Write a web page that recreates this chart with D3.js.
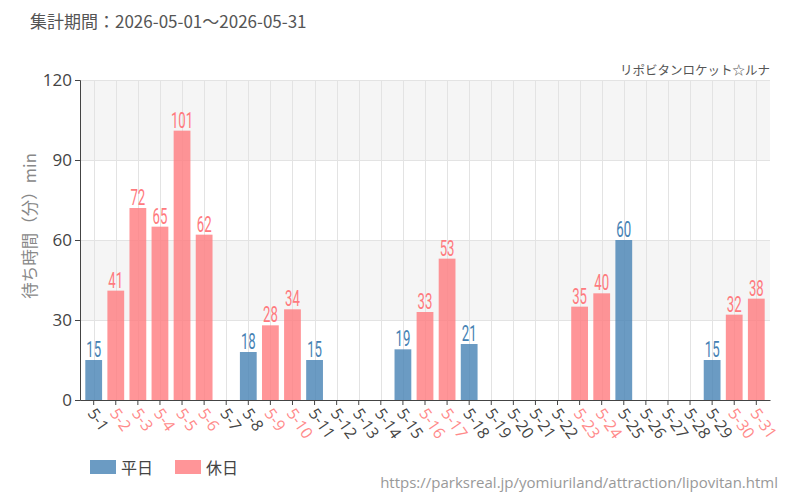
<!DOCTYPE html>
<html>
<head>
<meta charset="utf-8">
<script src="https://cdn.jsdelivr.net/npm/d3@7"></script>
<style>
  body { margin: 0; background: #fff; }
  svg { font-family: "Noto Sans CJK JP", "Noto Sans", sans-serif; }
</style>
</head>
<body>
<div id="root"></div>
<script>
// 日付ラベル
var days = ["5-1","5-2","5-3","5-4","5-5","5-6","5-7","5-8","5-9","5-10","5-11","5-12","5-13","5-14","5-15","5-16","5-17","5-18","5-19","5-20","5-21","5-22","5-23","5-24","5-25","5-26","5-27","5-28","5-29","5-30","5-31"];
// 待ち時間（分）, null = データなし
var waits = [15,41,72,65,101,62,null,18,28,34,15,null,null,null,19,33,53,21,null,null,null,null,35,40,60,null,null,null,15,32,38];
// 休日フラグ
var holiday = [0,1,1,1,1,1,0,0,1,1,0,0,0,0,0,1,1,0,0,0,0,0,1,1,0,0,0,0,0,1,1];
var yTicks = [0,30,60,90,120];

window.onload = function () {
    var width = 800, height = 500;
    var margin = {top: 80, right: 30, bottom: 100, left: 80};
    var colWeek = "#4682b4", colHoli = "#ff7a7e";

    var svg = d3.select("#root").append("svg")
        .attr("width", width).attr("height", height);

    var x = d3.scaleBand().domain(days)
        .range([margin.left, width - margin.right]).padding(0.24);
    var y = d3.scaleLinear().domain([0, 120]).range([height - margin.bottom, margin.top]);

    // 背景バンド
    svg.append("g").selectAll("rect")
        .data([[30, 60], [90, 120]])
        .enter().append("rect")
        .attr("x", margin.left).attr("width", width - margin.right - margin.left)
        .attr("y", function (d) { return y(d[1]); })
        .attr("height", function (d) { return y(d[0]) - y(d[1]); })
        .attr("fill", "#f5f5f5");

    // グリッド
    var grid = svg.append("g").attr("stroke", "#e3e3e3").attr("stroke-width", 1);
    grid.selectAll("line.h").data(yTicks.slice(1)).enter().append("line")
        .attr("x1", margin.left).attr("x2", width - margin.right)
        .attr("y1", function (d) { return y(d) + 0.5; }).attr("y2", function (d) { return y(d) + 0.5; });
    grid.selectAll("line.v").data(days).enter().append("line")
        .attr("x1", function (d) { return Math.round(x(d) + x.bandwidth() / 2) + 0.5; })
        .attr("x2", function (d) { return Math.round(x(d) + x.bandwidth() / 2) + 0.5; })
        .attr("y1", y(120)).attr("y2", y(0));

    // 棒
    var data = days.map(function (d, i) { return {day: d, v: waits[i], h: holiday[i]}; })
        .filter(function (d) { return d.v != null; });
    svg.append("g").selectAll("rect").data(data).enter().append("rect")
        .attr("x", function (d) { return x(d.day); })
        .attr("width", x.bandwidth())
        .attr("y", function (d) { return y(d.v); })
        .attr("height", function (d) { return y(0) - y(d.v); })
        .attr("fill", function (d) { return d.h ? colHoli : colWeek; })
        .attr("fill-opacity", 0.8);

    // 値ラベル（縦長の細字）
    svg.append("g").selectAll("text").data(data).enter().append("text")
        .attr("transform", function (d) {
            return "translate(" + (x(d.day) + x.bandwidth() / 2) + "," + (y(d.v) - 3) + ") scale(0.6,1)";
        })
        .attr("text-anchor", "middle")
        .style("font-family", "Roboto, sans-serif")
        .style("font-size", "22px")
        .attr("fill", function (d) { return d.h ? colHoli : colWeek; })
        .text(function (d) { return d.v; });

    // 軸
    var yAxis = svg.append("g").attr("transform", "translate(" + margin.left + ",0)")
        .call(d3.axisLeft(y).tickValues(yTicks).tickSize(5).tickPadding(3));
    yAxis.selectAll("text").style("font-size", "17px").attr("fill", "#444").style("font-family", "'Open Sans', sans-serif");
    yAxis.selectAll("line, path").attr("stroke", "#444");

    var xAxis = svg.append("g").attr("transform", "translate(0," + y(0) + ")")
        .call(d3.axisBottom(x).tickSize(5).tickSizeOuter(0));
    xAxis.select("path").attr("stroke", "#444");
    xAxis.selectAll("line").attr("stroke", "#444");
    xAxis.selectAll("text")
        .style("font-size", "16px").style("font-family", "'Open Sans', sans-serif")
        .attr("fill", function (d, i) { return holiday[i] ? "#ff8a8a" : "#444"; })
        .attr("text-anchor", "start")
        .attr("x", 0).attr("y", 0)
        .attr("dy", "0.35em")
        .attr("transform", "translate(-2,10) rotate(55)");

    // タイトル類
    svg.append("text").attr("x", 30).attr("y", 28)
        .style("font-size", "17px").attr("fill", "#555")
        .text("集計期間：2026-05-01～2026-05-31");
    svg.append("text").attr("x", width - margin.right).attr("y", 75)
        .attr("text-anchor", "end").style("font-size", "12.5px").attr("fill", "#555")
        .text("リポビタンロケット☆ルナ");
    svg.append("text")
        .attr("transform", "translate(36," + (margin.top + (y(0) - y(120)) / 2 - 14) + ") rotate(-90)")
        .attr("text-anchor", "middle").style("font-size", "16.5px").attr("fill", "#888")
        .text("待ち時間（分）min");

    // 凡例
    var legend = [{name: "平日", c: colWeek}, {name: "休日", c: colHoli}];
    var lg = svg.append("g").selectAll("g").data(legend).enter().append("g")
        .attr("transform", function (d, i) { return "translate(" + (90 + i * 85) + ",460)"; });
    lg.append("rect").attr("width", 26).attr("height", 14)
        .attr("fill", function (d) { return d.c; }).attr("fill-opacity", 0.8);
    lg.append("text").attr("x", 31).attr("y", 13.5)
        .style("font-size", "16px").attr("fill", "#444")
        .text(function (d) { return d.name; });

    svg.append("text").attr("x", 778).attr("y", 488)
        .attr("text-anchor", "end").style("font-size", "15px").attr("fill", "#999")
        .style("font-family", "'Open Sans', sans-serif")
        .text("https://parksreal.jp/yomiuriland/attraction/lipovitan.html");
};
</script>
</body>
</html>
